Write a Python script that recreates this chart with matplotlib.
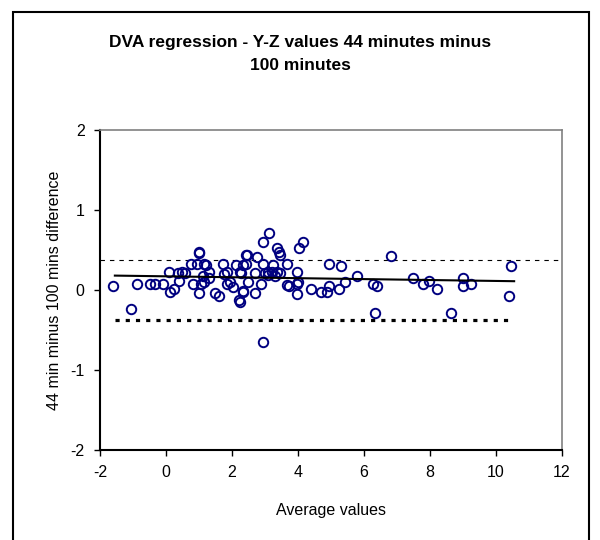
import matplotlib
matplotlib.use("Agg")
import matplotlib.pyplot as plt
from matplotlib.patches import Rectangle

plt.rcParams['font.family'] = ['Liberation Sans', 'DejaVu Sans']
plt.rcParams['axes.unicode_minus'] = False

avg_values = [-1.6, -1.06, -0.87, -0.47, -0.32, -0.08, 0.09, 0.13, 0.23, 0.40, 0.37, 0.48, 0.59,
              0.76, 0.82, 0.93, 1.00, 1.00, 1.01, 1.06, 1.15, 1.15, 1.21, 1.13, 1.31, 1.31,
              1.48, 1.62, 1.74, 1.76, 1.86, 1.84, 1.94, 2.04, 2.12, 2.22, 2.34, 2.26, 2.42,
              2.42, 2.49, 2.46, 2.34, 2.24, 2.70, 2.34, 2.24, 2.70, 2.77, 2.88, 2.94, 3.12,
              2.95, 3.00, 3.10, 3.20, 3.25, 3.10, 3.35, 3.30, 3.37, 3.43, 3.45, 3.45, 3.68,
              3.66, 3.72, 3.98, 3.96, 4.00, 3.98, 4.04, 4.16, 4.39, 4.70, 4.89, 4.94, 4.94,
              5.24, 5.30, 5.43, 5.79, 6.27, 6.40, 6.33, 6.83, 2.94, 7.49, 7.78, 7.98, 8.22,
              8.64, 9.01, 9.01, 9.25, 10.46, 10.40]
diff_values = [0.05, -0.24, 0.08, 0.08, 0.08, 0.08, 0.23, -0.02, 0.01, 0.11, 0.21, 0.23, 0.21,
               0.33, 0.08, 0.33, 0.48, 0.46, -0.04, 0.08, 0.10, 0.33, 0.31, 0.17, 0.23, 0.15,
               -0.04, -0.08, 0.33, 0.20, 0.23, 0.08, 0.10, 0.04, 0.31, -0.13, -0.01, 0.21, 0.44,
               0.33, 0.10, 0.44, 0.31, 0.23, 0.21, -0.02, -0.15, -0.04, 0.41, 0.08, 0.60, 0.71,
               0.33, 0.21, 0.23, 0.23, 0.31, 0.19, 0.22, 0.17, 0.53, 0.48, 0.44, 0.21, 0.33,
               0.06, 0.05, 0.22, 0.08, 0.10, -0.05, 0.52, 0.60, 0.01, -0.02, -0.02, 0.05, 0.33,
               0.01, 0.30, 0.10, 0.18, 0.08, 0.05, -0.29, 0.43, -0.65, 0.15, 0.08, 0.11, 0.01,
               -0.29, 0.15, 0.05, 0.08, 0.30, -0.07]

reg_x = [-1.55, 10.55]
reg_y = [0.18, 0.11]
upper_x = [-2, 12]
upper_y = [0.38, 0.38]
lower_x = [-1.55, 10.35]
lower_y = [-0.375, -0.375]

x_ticks = [-2, 0, 2, 4, 6, 8, 10, 12]
y_ticks = [-2, -1, 0, 1, 2]

fig = plt.figure(figsize=(6, 5.4), dpi=100)
fig.patches.append(Rectangle((13/600, -0.05), (589-13)/600, 1.05 - 12/540,
                             transform=fig.transFigure, fill=False,
                             edgecolor='black', linewidth=1.5))
ax = fig.add_axes([100/600, 1-450/540, (562-100)/600, (450-130)/540])

ax.plot(upper_x, upper_y, color='black', linewidth=0.8, dashes=(4, 4.5))
ax.plot(lower_x, lower_y, color='black', linewidth=2.3, dashes=(1.3, 1.9))
ax.plot(avg_values, diff_values, linestyle='none', marker='o', markersize=6.8,
        markerfacecolor='none', markeredgecolor='#000080', markeredgewidth=1.4)
ax.plot(reg_x, reg_y, color='black', linewidth=1.5)

ax.set_xlim(-2, 12)
ax.set_ylim(-2, 2)
ax.set_xticks(x_ticks)
ax.set_yticks(y_ticks)
ax.tick_params(direction='out', length=4, width=1, labelsize=11.5, pad=7)
for s in ['left', 'bottom']:
    ax.spines[s].set_color('black')
    ax.spines[s].set_linewidth(1.5)
for s in ['top', 'right']:
    ax.spines[s].set_color('#808080')
    ax.spines[s].set_linewidth(1.2)

ax.set_xlabel('Average values', fontsize=11.5, labelpad=16)
ax.set_ylabel('44 min minus 100 mins difference', fontsize=11.5, labelpad=6)
fig.text(0.5, 1-54/540, 'DVA regression - Y-Z values 44 minutes minus\n100 minutes',
         ha='center', va='center', fontsize=12.5, fontweight='bold', linespacing=1.75)

fig.savefig('out.png', dpi=100)
